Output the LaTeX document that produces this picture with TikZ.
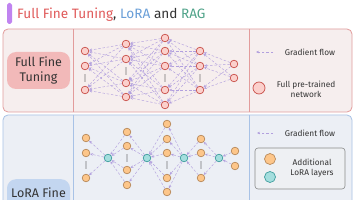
\documentclass[tikz,border=0pt]{standalone}
\usepackage{fontspec}
\setmainfont{Fira Sans}
\usetikzlibrary{arrows.meta}
\definecolor{barc}{HTML}{C084F0}
\definecolor{tred}{HTML}{E05A5A}
\definecolor{tblue}{HTML}{6A9FD8}
\definecolor{tgreen}{HTML}{4FA389}
\definecolor{tdark}{HTML}{333333}
\definecolor{sAfill}{HTML}{F6EEEE}
\definecolor{sAdraw}{HTML}{E29C9C}
\definecolor{labA}{HTML}{F2B9B9}
\definecolor{pkfill}{HTML}{FBD0CC}
\definecolor{pkdraw}{HTML}{C9504A}
\definecolor{gradc}{HTML}{B2A0DE}
\definecolor{sBfill}{HTML}{ECEFF5}
\definecolor{sBdraw}{HTML}{A8C2E6}
\definecolor{labB}{HTML}{C3D6F0}
\definecolor{orfill}{HTML}{FDC68A}
\definecolor{ordraw}{HTML}{B98A5A}
\definecolor{tlfill}{HTML}{A4DEDE}
\definecolor{tldraw}{HTML}{3F9E9E}
\definecolor{legfill}{HTML}{EEF0F3}
\definecolor{legdraw}{HTML}{8A8A8A}
\begin{document}
\begin{tikzpicture}[x=1pt,y=-1pt,
  neu/.style={circle, minimum size=7.6pt, inner sep=0pt, line width=0.7pt},
  pnode/.style={neu, fill=pkfill, draw=pkdraw},
  onode/.style={neu, fill=orfill, draw=ordraw},
  tnode/.style={neu, fill=tlfill, draw=tldraw},
  grad/.style={draw=gradc, dash pattern=on 2.5pt off 1.8pt, line width=0.45pt, -{Stealth[length=3pt,width=2.6pt]}},
  vdot/.style={fill=tdark, circle, inner sep=0pt, minimum size=1.2pt},
  legtext/.style={font=\fontsize{8.3}{9.6}\selectfont, text=tdark, align=center},
  labtext/.style={font=\fontsize{12.5}{14.5}\selectfont, text=tdark, align=center}]
\useasboundingbox (0,0) rectangle (356,200);
\fill[white] (0,0) rectangle (356,200);
\clip (0,0) rectangle (356,200);
% title
\fill[barc, rounded corners=1.8pt] (7,3) rectangle (12,24);
\node[anchor=base west, inner sep=0pt, font=\fontsize{13.6}{15}\selectfont] (title) at (17,19)
  {\textcolor{tred}{Full Fine Tuning}\textcolor{tdark}{,\ }\textcolor{tblue}{LoRA}\textcolor{tdark}{\ and\ }\textcolor{tgreen}{RAG}};
% section A
\draw[fill=sAfill, draw=sAdraw, line width=0.8pt, rounded corners=5pt] (3,29) rectangle (352,112);
\draw[sAdraw, line width=0.8pt] (73,29) -- (73,112);
\draw[sAdraw, line width=0.8pt] (249,29) -- (249,112);
\node[rounded corners=9pt, fill=labA, minimum width=63pt, minimum height=37pt, labtext] (labA) at (38.5,70.5) {Full Fine\\Tuning};
% network A
\foreach \y [count=\i] in {51,66,90} \node[pnode] (a1-\i) at (85,\y) {};
\foreach \y [count=\i] in {44,59,83,97} \node[pnode] (a2-\i) at (126,\y) {};
\foreach \y [count=\i] in {38,51,66,90,105} \node[pnode] (a3-\i) at (165,\y) {};
\foreach \y [count=\i] in {51,66,90} \node[pnode] (a4-\i) at (200,\y) {};
\foreach \y [count=\i] in {64,78} \node[pnode] (a5-\i) at (234,\y) {};
\foreach \i in {1,...,3} \foreach \j in {1,...,4} \draw[grad] (a2-\j) -- (a1-\i);
\foreach \i in {1,...,4} \foreach \j in {1,...,5} \draw[grad] (a3-\j) -- (a2-\i);
\foreach \i in {1,...,5} \foreach \j in {1,...,3} \draw[grad] (a4-\j) -- (a3-\i);
\foreach \i in {1,...,3} \foreach \j in {1,...,2} \draw[grad] (a5-\j) -- (a4-\i);
\foreach \x/\y [count=\k] in {85/78,126/71,165/78,200/78}
  \foreach \d [count=\m] in {-3,-1,1,3} \node[vdot] (da\k-\m) at (\x,\y+\d) {};
% legend A
\coordinate (gA1) at (273,52);
\coordinate (gA2) at (256,52);
\draw[grad] (gA1) -- (gA2);
\node[legtext] (gAt) at (310,52) {Gradient flow};
\node[neu, minimum size=12pt, fill=pkfill, draw=pkdraw] (legA) at (259,88) {};
\node[legtext] (legAt) at (306,89.5) {Full pre-trained\\network};
% section B
\draw[fill=sBfill, draw=sBdraw, line width=0.8pt, rounded corners=5pt] (3,115) rectangle (352,215);
\draw[sBdraw, line width=0.8pt] (73,115) -- (73,215);
\draw[sBdraw, line width=0.8pt] (249,115) -- (249,215);
\node[rounded corners=9pt, fill=labB, minimum width=63pt, minimum height=40pt, anchor=north] (labB) at (38.5,179) {};
\node[labtext, anchor=base] (labBt) at (38.5,197.5) {LoRA Fine};
% network B
\foreach \y [count=\i] in {138,153,178} \node[onode] (b1-\i) at (86,\y) {};
\node[tnode] (t1) at (108,158) {};
\foreach \y [count=\i] in {132,146,170,185} \node[onode] (b2-\i) at (127,\y) {};
\node[tnode] (t2) at (147,158) {};
\foreach \y [count=\i] in {124,139,153,178,192} \node[onode] (b3-\i) at (167,\y) {};
\node[tnode] (t3) at (184,158) {};
\foreach \y [count=\i] in {139,153,178} \node[onode] (b4-\i) at (201,\y) {};
\node[tnode] (t4) at (219,158) {};
\foreach \y [count=\i] in {151,166} \node[onode] (b5-\i) at (235,\y) {};
\foreach \i in {1,...,3} \draw[grad] (t1) -- (b1-\i);
\foreach \i in {1,...,4} \draw[grad] (b2-\i) -- (t1);
\foreach \i in {1,...,4} \draw[grad] (t2) -- (b2-\i);
\foreach \i in {1,...,5} \draw[grad] (b3-\i) -- (t2);
\foreach \i in {1,...,5} \draw[grad] (t3) -- (b3-\i);
\foreach \i in {1,...,3} \draw[grad] (b4-\i) -- (t3);
\foreach \i in {1,...,3} \draw[grad] (t4) -- (b4-\i);
\foreach \i in {1,...,2} \draw[grad] (b5-\i) -- (t4);
\foreach \x/\y [count=\k] in {86/165,127/158,167/165,201/165}
  \foreach \d [count=\m] in {-3,-1,1,3} \node[vdot] (db\k-\m) at (\x,\y+\d) {};
% legend B
\coordinate (gB1) at (273,133);
\coordinate (gB2) at (257,133);
\draw[grad] (gB1) -- (gB2);
\node[legtext] (gBt) at (310,133) {Gradient flow};
\draw[fill=legfill, draw=legdraw, line width=0.6pt, rounded corners=3pt] (255,148) rectangle (345,189);
\node[neu, minimum size=11pt, fill=orfill, draw=ordraw] (legB1) at (270,159) {};
\node[neu, minimum size=11pt, fill=tlfill, draw=tldraw] (legB2) at (270,177) {};
\node[legtext] (legBt) at (312,168) {Additional\\LoRA layers};
\end{tikzpicture}
\end{document}
